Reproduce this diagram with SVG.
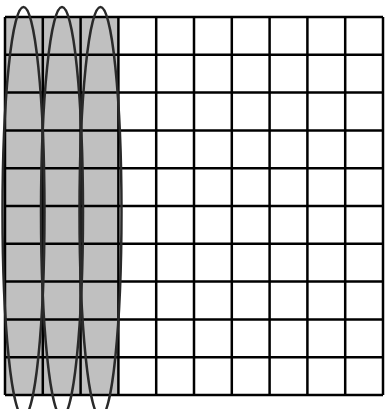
<svg xmlns="http://www.w3.org/2000/svg" width="385" height="409" viewBox="0 0 385 409">
<style>
.grid line{stroke:#000;stroke-width:2.5}
.ell{fill:none;stroke:#2a2a2a;stroke-width:2.5}
</style>
<rect width="385" height="409" fill="#fff"/>
<rect id="shade" x="5" y="17" width="113.4" height="378" fill="#c0c0c0"/>
<g class="grid" id="grid">
<line x1="5" y1="17" x2="5" y2="395"/>
<line x1="42.8" y1="17" x2="42.8" y2="395"/>
<line x1="80.6" y1="17" x2="80.6" y2="395"/>
<line x1="118.4" y1="17" x2="118.4" y2="395"/>
<line x1="156.2" y1="17" x2="156.2" y2="395"/>
<line x1="194" y1="17" x2="194" y2="395"/>
<line x1="231.8" y1="17" x2="231.8" y2="395"/>
<line x1="269.6" y1="17" x2="269.6" y2="395"/>
<line x1="307.4" y1="17" x2="307.4" y2="395"/>
<line x1="345.2" y1="17" x2="345.2" y2="395"/>
<line x1="383" y1="17" x2="383" y2="395"/>
<line x1="5" y1="17" x2="383" y2="17"/>
<line x1="5" y1="54.8" x2="383" y2="54.8"/>
<line x1="5" y1="92.6" x2="383" y2="92.6"/>
<line x1="5" y1="130.4" x2="383" y2="130.4"/>
<line x1="5" y1="168.2" x2="383" y2="168.2"/>
<line x1="5" y1="206" x2="383" y2="206"/>
<line x1="5" y1="243.8" x2="383" y2="243.8"/>
<line x1="5" y1="281.6" x2="383" y2="281.6"/>
<line x1="5" y1="319.4" x2="383" y2="319.4"/>
<line x1="5" y1="357.2" x2="383" y2="357.2"/>
<line x1="5" y1="395" x2="383" y2="395"/>
</g>
<g id="ellipse1"><ellipse class="ell" cx="23.5" cy="212" rx="21" ry="205"/></g>
<g id="ellipse2"><ellipse class="ell" cx="62" cy="212" rx="21" ry="205"/></g>
<g id="ellipse3"><ellipse class="ell" cx="100.5" cy="212" rx="21" ry="205"/></g>
</svg>
